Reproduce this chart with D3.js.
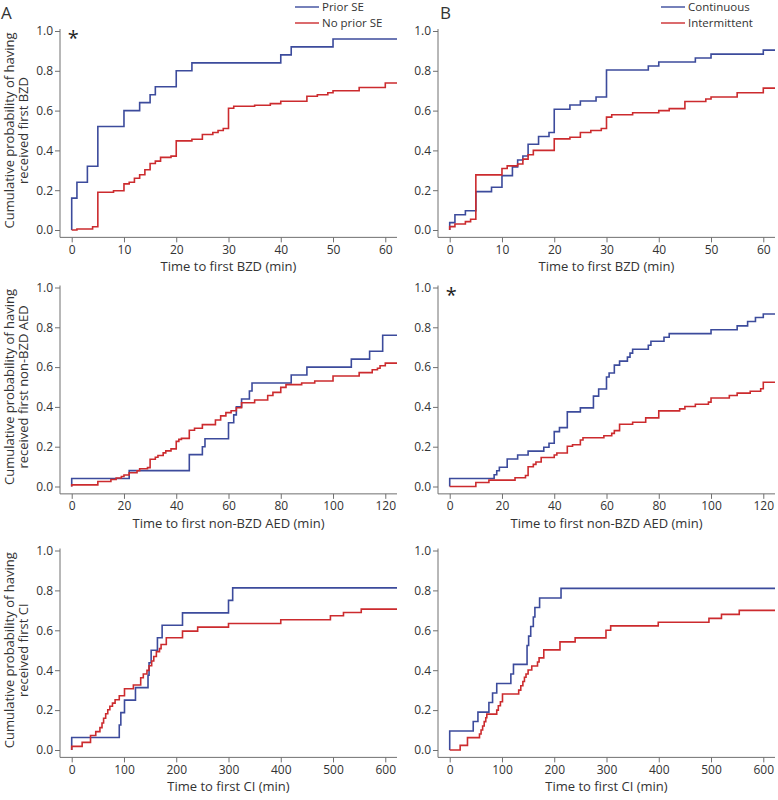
<!DOCTYPE html>
<html>
<head>
<meta charset="utf-8">
<script src="https://cdn.jsdelivr.net/npm/d3@7"></script>
<style>
  body { margin: 0; background: #fff; }
  svg { display: block; font-family: "Open Sans", sans-serif; }
</style>
</head>
<body>
<svg id="chart" width="778" height="800"></svg>
<script>
// ---------- DATA (time in min, cumulative probability) ----------
const bzdPriorSE = [[0,0],[0,0.16],[1,0.24],[3,0.32],[5,0.52],[10,0.60],[13,0.64],[15,0.68],[16,0.72],[20,0.80],[23,0.84],[40,0.88],[42,0.92],[50,0.96]];
const bzdNoPriorSE = [[0,0],[1,0.005],[4,0.016],[5,0.19],[8,0.197],[10,0.232],[11,0.24],[12,0.26],[13,0.278],[14,0.303],[15,0.334],[16,0.346],[17,0.365],[19,0.371],[20,0.448],[23,0.456],[25,0.48],[27,0.49],[28,0.50],[29,0.51],[30,0.612],[31,0.622],[35,0.627],[38,0.635],[40,0.647],[45,0.672],[47,0.68],[49,0.69],[50,0.70],[55,0.716],[60,0.739]];
const bzdContinuous = [[0,0],[0,0.037],[1,0.077],[3,0.097],[5,0.193],[8,0.215],[10,0.273],[12,0.317],[13,0.352],[14,0.372],[15,0.431],[17,0.470],[19,0.490],[20,0.607],[23,0.628],[25,0.648],[28,0.668],[30,0.804],[38,0.824],[40,0.844],[47,0.864],[50,0.884],[60,0.904]];
const bzdIntermittent = [[0,0],[0,0.017],[1,0.03],[3,0.042],[4,0.054],[5,0.277],[10,0.309],[11,0.322],[13,0.332],[14,0.356],[15,0.378],[16,0.40],[20,0.458],[23,0.466],[25,0.49],[27,0.50],[29,0.51],[30,0.567],[31,0.579],[35,0.589],[40,0.60],[42,0.61],[45,0.646],[49,0.658],[50,0.668],[55,0.69],[60,0.713]];

const aedPriorSE = [[0,0],[0,0.04],[22,0.08],[45,0.16],[50,0.20],[51,0.24],[60,0.32],[62,0.36],[63,0.40],[65,0.44],[68,0.48],[69,0.52],[84,0.56],[90,0.60],[107,0.64],[114,0.68],[119,0.76]];
const aedNoPriorSE = [[0,0],[0,0.008],[10,0.025],[15,0.035],[17,0.043],[19,0.05],[20,0.058],[22,0.069],[25,0.079],[26,0.089],[29,0.095],[30,0.137],[32,0.147],[33,0.156],[35,0.169],[36,0.179],[38,0.189],[40,0.227],[41,0.237],[42,0.242],[45,0.283],[47,0.293],[50,0.311],[55,0.334],[57,0.355],[59,0.371],[61,0.381],[63,0.396],[65,0.421],[70,0.435],[75,0.457],[77,0.473],[80,0.498],[82,0.512],[88,0.52],[93,0.53],[100,0.555],[110,0.572],[115,0.587],[117,0.594],[118,0.607],[120,0.62]];
const aedContinuous = [[0,0],[0,0.04],[17,0.059],[18,0.079],[19,0.097],[22,0.138],[26,0.158],[30,0.178],[36,0.197],[38,0.217],[40,0.276],[42,0.296],[45,0.375],[50,0.395],[55,0.454],[57,0.49],[60,0.55],[61,0.57],[63,0.61],[65,0.63],[68,0.65],[69,0.67],[70,0.69],[76,0.71],[77,0.73],[82,0.75],[84,0.768],[100,0.788],[110,0.807],[114,0.829],[117,0.849],[120,0.867]];
const aedIntermittent = [[0,0],[10,0.02],[15,0.032],[25,0.044],[29,0.055],[30,0.099],[32,0.111],[33,0.123],[35,0.146],[40,0.158],[41,0.168],[45,0.202],[47,0.21],[50,0.234],[51,0.245],[59,0.255],[62,0.267],[63,0.281],[65,0.313],[70,0.323],[75,0.345],[80,0.38],[88,0.39],[90,0.402],[94,0.413],[99,0.424],[100,0.445],[107,0.457],[110,0.469],[115,0.479],[119,0.491],[120,0.524]];

const ciPriorSE = [[0,0],[0,0.0625],[91,0.125],[94,0.1875],[101,0.25],[122,0.3125],[146,0.375],[148,0.4375],[152,0.5],[164,0.5625],[173,0.625],[212,0.6875],[300,0.75],[308,0.8125]];
const ciNoPriorSE = [[0,0],[0,0.018],[20,0.038],[36,0.073],[46,0.092],[54,0.112],[58,0.135],[61,0.159],[65,0.182],[69,0.202],[73,0.219],[78,0.235],[83,0.252],[91,0.272],[101,0.307],[118,0.326],[132,0.362],[137,0.381],[144,0.399],[148,0.422],[153,0.446],[157,0.469],[162,0.493],[168,0.508],[171,0.529],[181,0.563],[212,0.596],[241,0.616],[300,0.634],[400,0.653],[495,0.673],[520,0.689],[554,0.706]];
const ciContinuous = [[0,0],[0,0.095],[45,0.143],[54,0.19],[75,0.238],[82,0.286],[90,0.333],[117,0.381],[122,0.429],[148,0.524],[151,0.571],[155,0.619],[160,0.667],[163,0.714],[172,0.762],[213,0.81]];
const ciIntermittent = [[0,0],[20,0.023],[34,0.062],[57,0.08],[60,0.10],[63,0.12],[66,0.142],[69,0.162],[71,0.18],[90,0.20],[93,0.222],[97,0.242],[101,0.281],[132,0.30],[136,0.322],[140,0.343],[143,0.365],[146,0.381],[150,0.401],[157,0.421],[168,0.441],[171,0.462],[180,0.502],[211,0.542],[240,0.562],[299,0.60],[308,0.622],[399,0.64],[496,0.66],[520,0.68],[554,0.70]];

const yTicks = [0, 0.2, 0.4, 0.6, 0.8, 1.0];
const bzdTicks = [0, 10, 20, 30, 40, 50, 60];
const aedTicks = [0, 20, 40, 60, 80, 100, 120];
const ciTicks = [0, 100, 200, 300, 400, 500, 600];

const legendA = ["Prior SE", "No prior SE"];
const legendB = ["Continuous", "Intermittent"];
const xTitles = ["Time to first BZD (min)", "Time to first non-BZD AED (min)", "Time to first CI (min)"];
const yTitles = [["Cumulative probability of having", "received first BZD"],
                 ["Cumulative probability of having", "received first non-BZD AED"],
                 ["Cumulative probability of having", "received first CI"]];
const panelLetters = ["A", "B"];

// ---------- LAYOUT ----------
const BLUE = "#3c4b9c", RED = "#cc2b2e", AXIS = "#707070", TXT = "#333";
const cols = [{x0: 60, x1: 397}, {x0: 438, x1: 775}];
const rows = [{top: 31, zero: 230}, {top: 287.5, zero: 486.5}, {top: 550.5, zero: 750}];
const xDomains = [[-2.24, 62.24], [-4.48, 124.48], [-22.4, 622.4]];
const xTickSets = [bzdTicks, aedTicks, ciTicks];

const panels = [
  {r:0, c:0, s:[bzdPriorSE, bzdNoPriorSE], star:true},
  {r:0, c:1, s:[bzdContinuous, bzdIntermittent], star:false},
  {r:1, c:0, s:[aedPriorSE, aedNoPriorSE], star:false},
  {r:1, c:1, s:[aedContinuous, aedIntermittent], star:true},
  {r:2, c:0, s:[ciPriorSE, ciNoPriorSE], star:false},
  {r:2, c:1, s:[ciContinuous, ciIntermittent], star:false}
];

const svg = d3.select("#chart");

panels.forEach(p => {
  const col = cols[p.c], row = rows[p.r];
  const perUnit = row.zero - row.top;
  const yBottom = row.zero + 0.037 * perUnit;
  const yTop = row.top - 0.01 * perUnit;
  const x = d3.scaleLinear().domain(xDomains[p.r]).range([col.x0, col.x1]);
  const y = d3.scaleLinear().domain([0, 1]).range([row.zero, row.top]);
  const g = svg.append("g");

  // y axis
  const yAx = g.append("g").attr("transform", `translate(${col.x0},0)`)
    .call(d3.axisLeft(y).tickValues(yTicks).tickFormat(d3.format(".1f")).tickSizeOuter(0).tickSize(5).tickPadding(2));
  yAx.select(".domain").attr("d", `M0,${yTop}V${yBottom}`);
  // x axis
  const xAx = g.append("g").attr("transform", `translate(0,${yBottom})`)
    .call(d3.axisBottom(x).tickValues(xTickSets[p.r]).tickSizeOuter(0).tickSize(5).tickPadding(3));
  xAx.select(".domain").attr("d", `M${col.x0},0H${col.x1}`);
  [yAx, xAx].forEach(a => {
    a.select(".domain").attr("stroke", AXIS).attr("stroke-width", 1);
    a.selectAll(".tick line").attr("stroke", AXIS);
    a.selectAll(".tick text").attr("fill", TXT).style("font-size", "12px").style("font-family", "'Open Sans', sans-serif");
  });

  // x title
  g.append("text").attr("x", (col.x0 + col.x1) / 2).attr("y", yBottom + 34)
    .attr("text-anchor", "middle").attr("fill", TXT).style("font-size", "13px").text(xTitles[p.r]);

  // curves
  const line = d3.line().x(d => x(d[0])).y(d => y(d[1])).curve(d3.curveStepAfter);
  const xmax = xDomains[p.r][1];
  [BLUE, RED].forEach((colr, i) => {
    const data = p.s[i].concat([[xmax, p.s[i][p.s[i].length - 1][1]]]);
    g.append("path").datum(data).attr("d", line)
      .attr("fill", "none").attr("stroke", colr).attr("stroke-width", 1.6);
  });

  if (p.star) {
    g.append("text").attr("x", x(0) - 4).attr("y", row.top + 14)
      .attr("fill", "#222").style("font-size", "20px").text("*");
  }

  // y title (left column only)
  if (p.c === 0) {
    const cy = (row.top + row.zero) / 2;
    const t = g.append("text").attr("transform", `translate(0,${cy}) rotate(-90)`)
      .attr("text-anchor", "middle").attr("fill", TXT).style("font-size", "13px");
    yTitles[p.r].forEach((ln, k) => {
      t.append("tspan").attr("x", 0).attr("y", 13.5 + k * 14).text(ln);
    });
  }
});

// panel letters
svg.append("text").attr("x", 1).attr("y", 19).attr("fill", TXT).style("font-size", "17px").text(panelLetters[0]);
svg.append("text").attr("x", 440).attr("y", 19).attr("fill", TXT).style("font-size", "17px").text(panelLetters[1]);

// legends
function legend(x0, labels) {
  const lg = svg.append("g");
  labels.forEach((lab, i) => {
    const yy = 7 + i * 16;
    lg.append("line").attr("x1", x0).attr("x2", x0 + 24).attr("y1", yy).attr("y2", yy)
      .attr("stroke", i === 0 ? BLUE : RED).attr("stroke-width", 1.4);
    lg.append("text").attr("x", x0 + 27).attr("y", yy + 4).attr("fill", TXT)
      .style("font-size", "11.5px").text(lab);
  });
}
legend(295, legendA);
legend(661, legendB);
</script>
</body>
</html>
